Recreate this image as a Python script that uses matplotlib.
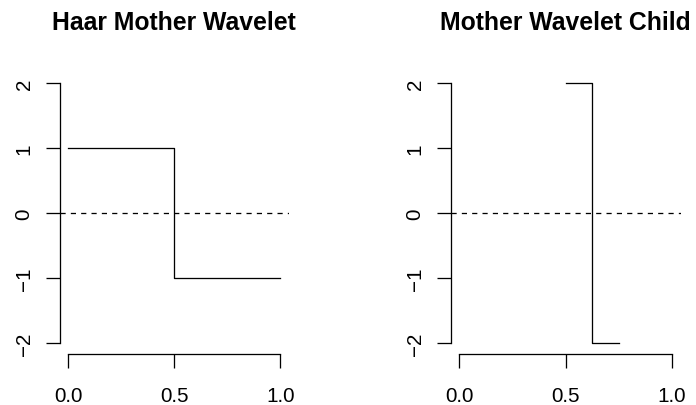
import matplotlib
matplotlib.use("Agg")
import matplotlib.pyplot as plt

plt.rcParams['font.family'] = ['Liberation Sans', 'DejaVu Sans']

titles = ["Haar Mother Wavelet", "Mother Wavelet Child"]
# step breakpoints and values (step "post")
mother_x = [0.0, 0.5, 1.0]
mother_y = [1, -1, -1]
child_x = [0.5, 0.625, 0.75]
child_y = [2, -2, -2]
xticks = [0.0, 0.5, 1.0]
xticklabels = ["0.0", "0.5", "1.0"]
yticks = [-2, -1, 0, 1, 2]
yticklabels = ["\u22122", "\u22121", "0", "1", "2"]

W, H = 696, 406
fig = plt.figure(figsize=(W / 100, H / 100), dpi=100)

def px_axes(left, right, top, bottom):
    return fig.add_axes([left / W, 1 - bottom / H, (right - left) / W, (bottom - top) / H])

ax1 = px_axes(59.8, 288.8, 73.6, 354.7)
ax2 = px_axes(450.8, 680.6, 73.6, 354.7)

LW = 0.93
for ax, title, xs, ys in [(ax1, titles[0], mother_x, mother_y), (ax2, titles[1], child_x, child_y)]:
    ax.step(xs, ys, where='post', color='black', lw=LW)
    ax.axhline(0, color='black', lw=LW, ls=(0, (4, 4)))
    ax.set_xlim(-0.04, 1.04)
    ax.set_ylim(-2.16, 2.16)
    for s in ['top', 'right']:
        ax.spines[s].set_visible(False)
    ax.spines['left'].set_bounds(-2, 2)
    ax.spines['bottom'].set_bounds(0, 1)
    for s in ['left', 'bottom']:
        ax.spines[s].set_linewidth(LW)
    ax.set_xticks(xticks)
    ax.set_xticklabels(xticklabels)
    ax.set_yticks(yticks)
    ax.set_yticklabels(yticklabels, rotation=90, va='center')
    ax.tick_params(axis='both', direction='out', length=9.8, width=LW, labelsize=14.85)
    ax.tick_params(axis='x', pad=13.5)
    ax.tick_params(axis='y', pad=9)
    ax.set_title(title, fontsize=17.8, fontweight='bold', pad=31.7)

fig.savefig("out.png", dpi=100)
